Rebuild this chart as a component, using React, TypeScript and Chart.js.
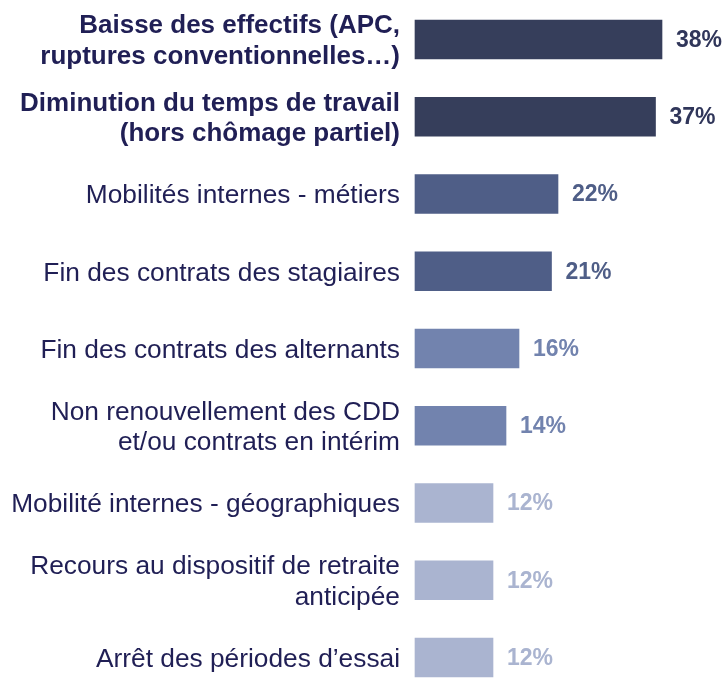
import React, { useEffect, useRef } from "react";
import { Chart, registerables } from "chart.js";

Chart.register(...registerables);

const categories: (string | string[])[] = [
  ["Baisse des effectifs (APC,", "ruptures conventionnelles…)"],
  ["Diminution du temps de travail", "(hors chômage partiel)"],
  "Mobilités internes - métiers",
  "Fin des contrats des stagiaires",
  "Fin des contrats des alternants",
  ["Non renouvellement des CDD", "et/ou contrats en intérim"],
  "Mobilité internes - géographiques",
  ["Recours au dispositif de retraite", "anticipée"],
  "Arrêt des périodes d’essai",
];

const values: number[] = [38, 37, 22, 21, 16, 14, 12, 12, 12];

const valueLabels: string[] = ["38%", "37%", "22%", "21%", "16%", "14%", "12%", "12%", "12%"];

const barColors: string[] = [
  "#363e5b",
  "#363e5b",
  "#4f5e87",
  "#4f5e87",
  "#7283ae",
  "#7283ae",
  "#aab4d0",
  "#aab4d0",
  "#aab4d0",
];

const valueLabelColors: string[] = [
  "#30365a",
  "#30365a",
  "#4f5e87",
  "#4f5e87",
  "#7283ae",
  "#7283ae",
  "#aab4d0",
  "#aab4d0",
  "#aab4d0",
];

const FONT = "'Liberation Sans', Arial, sans-serif";

const valueLabelPlugin = {
  id: "valueLabels",
  afterDatasetsDraw(chart: any) {
    const ctx = chart.ctx;
    const meta = chart.getDatasetMeta(0);
    ctx.save();
    ctx.font = `bold 23px ${FONT}`;
    ctx.textAlign = "left";
    ctx.textBaseline = "middle";
    meta.data.forEach((bar: any, i: number) => {
      ctx.fillStyle = valueLabelColors[i];
      ctx.fillText(valueLabels[i], bar.x + 14, bar.y + 1);
    });
    ctx.restore();
  },
};

export default function App() {
  const ref = useRef<HTMLCanvasElement | null>(null);

  useEffect(() => {
    if (!ref.current) return;
    const chart = new Chart(ref.current, {
      type: "bar",
      data: {
        labels: categories,
        datasets: [
          {
            data: values,
            backgroundColor: barColors,
            borderWidth: 0,
            barThickness: 39,
            clip: false as any,
          },
        ],
      },
      options: {
        indexAxis: "y",
        animation: false,
        responsive: false,
        maintainAspectRatio: false,
        layout: { padding: { top: 39.5, bottom: 20.5, left: 0, right: 2.5 } },
        plugins: {
          legend: { display: false },
          tooltip: { enabled: false },
        },
        scales: {
          x: {
            display: false,
            min: 0,
            max: 47,
          },
          y: {
            offset: false,
            grid: { display: false, drawTicks: false },
            border: { display: false },
            afterFit: (scale: any) => {
              scale.width = 415;
              scale.paddingTop = 0;
              scale.paddingBottom = 0;
            },
            ticks: {
              padding: 15,
              labelOffset: 2,
              color: "#201f55",
              font: (c: any) => ({
                family: FONT,
                size: c.index < 2 ? 26 : 26.3,
                lineHeight: c.index < 2 ? 1.18 : 1.17,
                weight: c.index < 2 ? "bold" : "normal",
              }),
            },
          },
        },
      },
      plugins: [valueLabelPlugin],
    });
    return () => chart.destroy();
  }, []);

  return (
    <div style={{ position: "fixed", left: 0, top: 0, width: 723, height: 678, background: "#fff" }}>
      <canvas ref={ref} width={723} height={678} style={{ width: 723, height: 678, display: "block" }} />
    </div>
  );
}
